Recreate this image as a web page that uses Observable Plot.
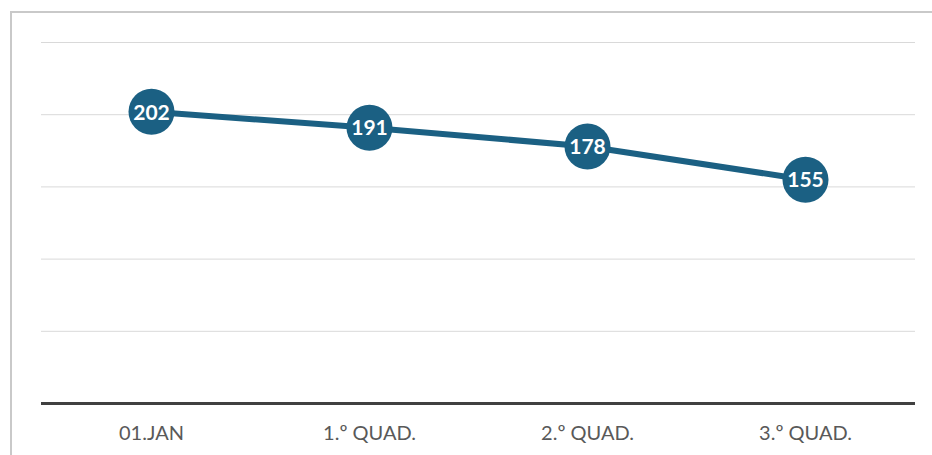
<!DOCTYPE html>
<html>
<head>
<meta charset="utf-8">
<script src="https://cdn.jsdelivr.net/npm/d3@7"></script>
<script src="https://cdn.jsdelivr.net/npm/@observablehq/plot@0.6"></script>
<style>
  html, body { margin: 0; padding: 0; background: #fff; overflow: hidden; }
  #wrap { position: relative; width: 932px; height: 455px; }
  #frame { position: absolute; left: 10px; top: 11px; width: 1000px; height: 600px;
           border-left: 2px solid #c9c9c9; border-top: 2px solid #c9c9c9; box-sizing: border-box; }
  #chart { position: absolute; left: 0; top: 0; }
</style>
</head>
<body>
<div id="wrap"><div id="frame"></div><div id="chart"></div></div>
<script>
const categories = ["01.JAN", "1.º QUAD.", "2.º QUAD.", "3.º QUAD."];
const values = [202, 191, 178, 155];
const yTicks = [50, 100, 150, 200, 250];

const data = categories.map((c, i) => ({ cat: c, value: values[i] }));
const color = "#1b6083";

const chart = Plot.plot({
  width: 932,
  height: 455,
  marginLeft: 41,
  marginRight: 17,
  marginTop: 42,
  marginBottom: 52,
  style: { fontFamily: "Lato, sans-serif", background: "transparent" },
  x: { type: "point", domain: categories, padding: 0.5, label: null },
  y: { domain: [0, 250], axis: null },
  marks: [
    Plot.ruleY(yTicks, { stroke: "#d9d9d9", strokeWidth: 1 }),
    Plot.ruleY([0], { stroke: "#404040", strokeWidth: 3 }),
    Plot.axisX({ tickSize: 0, tickPadding: 22, fontSize: 20, color: "#595959", label: null }),
    Plot.line(data, { x: "cat", y: "value", stroke: color, strokeWidth: 6 }),
    Plot.dot(data, { x: "cat", y: "value", r: 23, fill: color, stroke: null }),
    Plot.text(data, { x: "cat", y: "value", text: d => String(d.value), fill: "white",
      fontWeight: "bold", fontSize: 21, dy: 1 })
  ]
});
document.getElementById("chart").appendChild(chart);
</script>
</body>
</html>
